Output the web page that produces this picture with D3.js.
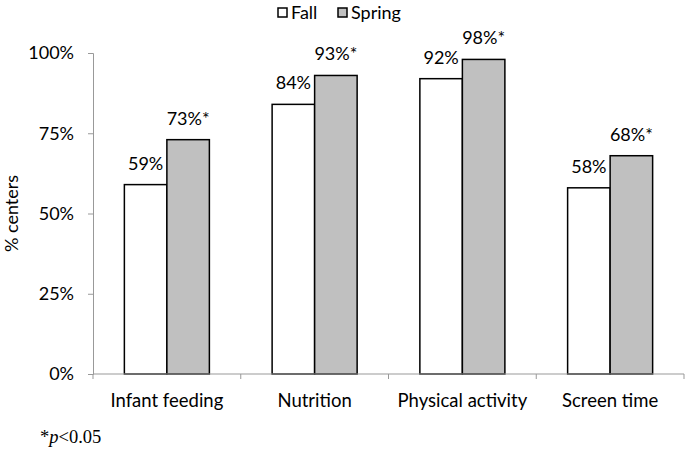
<!DOCTYPE html>
<html><head><meta charset="utf-8">
<script src="https://cdn.jsdelivr.net/npm/d3@7"></script>
<style>body{margin:0;background:#fff}svg{display:block}</style>
</head><body>
<script>
const categories = ["Infant feeding", "Nutrition", "Physical activity", "Screen time"];
const seriesNames = ["Fall", "Spring"];
const fallValues = [59, 84, 92, 58];
const springValues = [73, 93, 98, 68];
const fallLabels = ["59%", "84%", "92%", "58%"];
const springLabels = ["73%*", "93%*", "98%*", "68%*"];
const yTicks = [0, 25, 50, 75, 100];
const colors = ["#ffffff", "#c0c0c0"];

const W = 685, H = 450;
const m = {left: 93, right: 1, top: 53, bottom: 76};
const font = "Lato, 'Open Sans', sans-serif";
const svg = d3.select("body").append("svg").attr("width", W).attr("height", H);

const x = d3.scaleBand().domain(categories).range([m.left, W - m.right]).paddingInner(0).paddingOuter(0);
const x1 = d3.scaleBand().domain(seriesNames).range([0, x.bandwidth()]).paddingInner(0).paddingOuter(0.738);
const y = d3.scaleLinear().domain([0, 100]).range([H - m.bottom, m.top]);

// y axis
const yAxis = svg.append("g").attr("transform", `translate(${m.left},0)`)
  .call(d3.axisLeft(y).tickValues(yTicks).tickFormat(d => d + "%").tickSize(5).tickPadding(14));
yAxis.selectAll("line, path").attr("stroke", "#999").attr("stroke-width", 1);
yAxis.selectAll("text").attr("font-family", font).attr("font-size", 18).attr("fill", "#000");

// bars
const rows = categories.map((c, i) => ({c, vals: [fallValues[i], springValues[i]], labs: [fallLabels[i], springLabels[i]]}));
const g = svg.append("g");
rows.forEach(r => {
  seriesNames.forEach((s, j) => {
    const bx = x(r.c) + x1(s);
    g.append("rect").attr("x", bx).attr("y", y(r.vals[j])).attr("width", x1.bandwidth())
      .attr("height", y(0) - y(r.vals[j])).attr("fill", colors[j]).attr("stroke", "#000").attr("stroke-width", 1.5);
    g.append("text").attr("x", bx + x1.bandwidth() / 2).attr("y", y(r.vals[j]) - 15)
      .attr("text-anchor", "middle").attr("font-family", font).attr("font-size", 18).text(r.labs[j]);
  });
});

// x axis
const xAxisG = svg.append("g").attr("transform", `translate(0,${y(0)})`);
xAxisG.append("line").attr("x1", m.left).attr("x2", W - m.right).attr("stroke", "#999");
const bounds = categories.map(c => x(c)).concat([x(categories[categories.length - 1]) + x.bandwidth()]);
xAxisG.selectAll("line.t").data(bounds).enter().append("line").attr("class", "t")
  .attr("x1", d => d).attr("x2", d => d).attr("y1", 0).attr("y2", 5).attr("stroke", "#999");
xAxisG.selectAll("text").data(categories).enter().append("text")
  .attr("x", d => x(d) + x.bandwidth() / 2).attr("y", 33).attr("text-anchor", "middle")
  .attr("font-family", font).attr("font-size", 18.5).text(d => d);

// y label
svg.append("text").attr("transform", `translate(18,${(y(0) + y(100)) / 2}) rotate(-90)`)
  .attr("text-anchor", "middle").attr("font-family", font).attr("font-size", 18).text("% centers");

// legend
const leg = svg.append("g");
const legX = [278, 338];
seriesNames.forEach((s, i) => {
  leg.append("rect").attr("x", legX[i]).attr("y", 8).attr("width", 9).attr("height", 9)
    .attr("fill", colors[i]).attr("stroke", "#000").attr("stroke-width", 1.5);
  leg.append("text").attr("x", legX[i] + 13).attr("y", 19).attr("font-family", font).attr("font-size", 18).text(s);
});

// footnote
const fn = svg.append("text").attr("x", 40).attr("y", 443).attr("font-family", "'Liberation Serif', 'Times New Roman', serif").attr("font-size", 18.5);
fn.append("tspan").text("*");
fn.append("tspan").attr("font-style", "italic").text("p");
fn.append("tspan").text("<0.05");
</script>
</body></html>
